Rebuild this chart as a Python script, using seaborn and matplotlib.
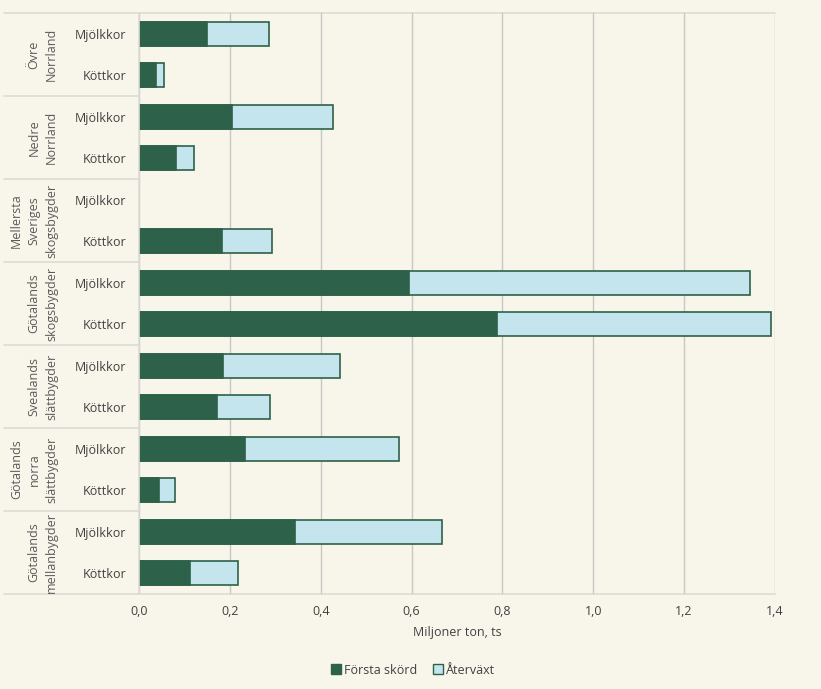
import matplotlib
matplotlib.use("Agg")
import matplotlib.pyplot as plt
import matplotlib.transforms as mtransforms
from matplotlib.patches import Patch
import seaborn as sns
import pandas as pd

regions = ["Övre\nNorrland", "Nedre\nNorrland", "Mellersta\nSveriges\nskogsbygder",
           "Götalands\nskogsbygder", "Svealands\nslättbygder", "Götalands\nnorra\nslättbygder",
           "Götalands\nmellanbygder"]
animals = ["Mjölkkor", "Köttkor"]
forsta = [0.149, 0.037, 0.205, 0.081, 0.0, 0.183, 0.594, 0.788, 0.185, 0.172, 0.233, 0.044, 0.344, 0.113]
atervaxt = [0.137, 0.018, 0.221, 0.040, 0.0, 0.109, 0.751, 0.604, 0.257, 0.116, 0.340, 0.035, 0.322, 0.106]
xticks = [0.0, 0.2, 0.4, 0.6, 0.8, 1.0, 1.2, 1.4]
xlabel = "Miljoner ton, ts"
series_names = ["Första skörd", "Återväxt"]

dark = "#2d6149"
light = "#c5e5ee"
bg = "#f8f6ea"
grid_c = "#c8c8c4"
sep_c = "#dcdcd6"
txt = "#404040"

sns.set_theme(style="white")
plt.rcParams["font.family"] = ["Open Sans", "DejaVu Sans"]

rows = []
for i, r in enumerate(regions):
    for j, a in enumerate(animals):
        k = i * 2 + j
        rows.append({"key": f"{k:02d}", "animal": a, "forsta": forsta[k],
                     "total": forsta[k] + atervaxt[k]})
df = pd.DataFrame(rows)

fig = plt.figure(figsize=(8.21, 6.89), dpi=100, facecolor=bg)
ax = fig.add_axes([139 / 821, 1 - 594 / 689, (775 - 139) / 821, (594 - 13) / 689])
ax.set_facecolor(bg)

order = list(df["key"])
sns.barplot(data=df, y="key", x="total", order=order, orient="h", color=light,
            edgecolor=dark, linewidth=1.2, width=0.58, ax=ax, saturation=1)
sns.barplot(data=df, y="key", x="forsta", order=order, orient="h", color=dark,
            edgecolor=dark, linewidth=1.2, width=0.58, ax=ax, saturation=1)
for p in ax.patches:
    if p.get_width() == 0:
        p.set_visible(False)

ax.set_xlim(0, 1.4)
ax.set_ylim(13.5, -0.5)
ax.set_xticks(xticks)
ax.set_xticklabels([f"{v:.1f}".replace(".", ",") for v in xticks], color=txt, fontsize=9)
ax.set_yticks(range(len(order)))
ax.set_yticklabels(list(df["animal"]), color=txt, fontsize=9)
ax.tick_params(axis="y", length=0, pad=9)
ax.tick_params(axis="x", length=0, pad=8)
ax.set_ylabel("")
ax.set_xlabel(xlabel, color=txt, fontsize=9, labelpad=6)
ax.grid(axis="x", color=grid_c, linewidth=1)
ax.set_axisbelow(True)
for s in ["top", "right", "bottom"]:
    ax.spines[s].set_visible(False)
ax.spines["left"].set_color(sep_c)
ax.spines["left"].set_linewidth(1.2)

trans = mtransforms.blended_transform_factory(ax.transAxes, ax.transData)
x0 = (4 - 139) / 636
for g in range(len(regions) + 1):
    yv = g * 2 - 0.5
    xe = 1.0 if g in (0, len(regions)) else 0.0
    ax.plot([x0, xe], [yv, yv], transform=trans, color=sep_c, linewidth=1.2,
            clip_on=False, zorder=0)
for g, r in enumerate(regions):
    ax.text((58 - 139) / 636, g * 2 + 0.5, r, transform=trans, rotation=90,
            ha="right", va="center", multialignment="center", color="#5a5a5a",
            fontsize=9, linespacing=1.45)

handles = [Patch(facecolor=dark, edgecolor=dark, label=series_names[0]),
           Patch(facecolor=light, edgecolor=dark, label=series_names[1])]
leg = fig.legend(handles=handles, loc="center", bbox_to_anchor=(0.503, 1 - 670 / 689),
                 ncol=2, frameon=False, fontsize=9, handlelength=0.8, handleheight=0.8,
                 handletextpad=0.3, columnspacing=1.2)
for t in leg.get_texts():
    t.set_color(txt)

fig.savefig("out.png", dpi=100, facecolor=bg)
